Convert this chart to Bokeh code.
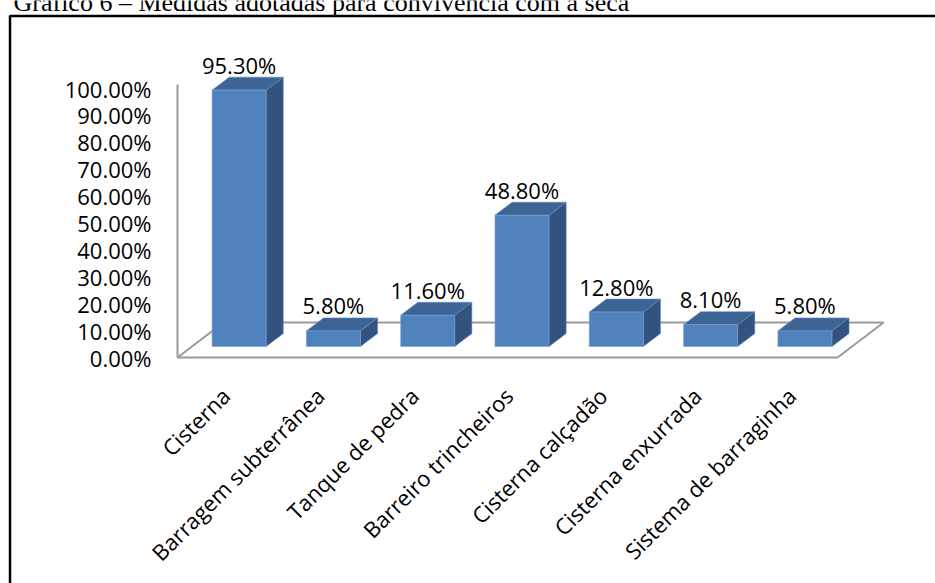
import numpy as np
from bokeh.plotting import figure
from bokeh.models import Range1d, ColumnDataSource
from bokeh.core.properties import value
from bokeh.embed import file_html
from bokeh.resources import INLINE

# ---------------- data ----------------
categories = ["Cisterna", "Barragem subterrânea", "Tanque de pedra",
              "Barreiro trincheiros", "Cisterna calçadão", "Cisterna enxurrada",
              "Sistema de barraginha"]
values = [95.3, 5.8, 11.6, 48.8, 12.8, 8.1, 5.8]
value_labels = ["95.30%", "5.80%", "11.60%", "48.80%", "12.80%", "8.10%", "5.80%"]
y_ticks = [0, 10, 20, 30, 40, 50, 60, 70, 80, 90, 100]
y_tick_labels = ["0.00%", "10.00%", "20.00%", "30.00%", "40.00%", "50.00%",
                 "60.00%", "70.00%", "80.00%", "90.00%", "100.00%"]
title_text = "Gráfico 6 – Medidas adotadas para convivência com a seca"

# ---------------- layout / style constants ----------------
W, H = 935, 583
PX_X = 94.3          # pixels per category slot
PX_Y = 2.69          # pixels per percent
ORIGIN_X, ORIGIN_Y = 177, 357   # canvas pixel of (0, 0)


def px2x(px):
    return (px - ORIGIN_X) / PX_X


def px2y(py):
    return (ORIGIN_Y - py) / PX_Y


DX = 46 / PX_X       # floor depth (x, data units)
DY = 35 / PX_Y       # floor depth (y, data units)
F0, F1 = 0.314, 0.686  # bar front / back depth fractions
BW = 0.573           # bar width (slot units)

FONT = "Open Sans"
FS = "22px"
FRONT, TOP, SIDE = "#4F81BD", "#3C6494", "#32527F"
GRID_GRAY = "#9A9A9A"

n = len(values)
v = np.array(values, dtype=float)
xc = np.arange(n) + 0.5

p = figure(width=W, height=H, output_backend="svg", toolbar_location=None,
           x_range=Range1d(px2x(0), px2x(W)), y_range=Range1d(px2y(H), px2y(0)),
           min_border=0)
p.outline_line_color = None
p.axis.visible = False
p.xgrid.visible = False
p.ygrid.visible = False
p.background_fill_color = "white"
p.border_fill_color = "white"

# outer chart border (open at right/bottom like the cropped reference)
p.quad(left=[px2x(9.5)], right=[px2x(W + 20)], top=[px2y(15.5)], bottom=[px2y(H + 20)],
       fill_color=None, line_color="black", line_width=2.5)

# caption above the chart (cropped by the top edge, as in the reference)
p.text(x=[px2x(13)], y=[px2y(2)], text=[title_text], text_font=value("Liberation Serif"),
       text_font_size="26px", text_baseline="alphabetic", text_align="left",
       text_color="black")

# floor
p.patch(x=[0, n, n + DX, DX], y=[0, 0, DY, DY], fill_color="white",
        line_color=GRID_GRAY, line_width=2)
# vertical axis line
p.segment(x0=[0], y0=[0], x1=[0], y1=[101.5], line_color=GRID_GRAY, line_width=2)

# bars (pseudo 3D)
fl = xc + F0 * DX - BW / 2
fr = fl + BW
bot = np.full(n, F0 * DY)
top = bot + v
ddx = (F1 - F0) * DX
ddy = (F1 - F0) * DY

side_xs = [[fr[i], fr[i] + ddx, fr[i] + ddx, fr[i]] for i in range(n)]
side_ys = [[bot[i], bot[i] + ddy, top[i] + ddy, top[i]] for i in range(n)]
top_xs = [[fl[i], fr[i], fr[i] + ddx, fl[i] + ddx] for i in range(n)]
top_ys = [[top[i], top[i], top[i] + ddy, top[i] + ddy] for i in range(n)]

p.patches(xs=side_xs, ys=side_ys, fill_color=SIDE, line_color="#5A7FB0", line_width=0.6)
p.patches(xs=top_xs, ys=top_ys, fill_color=TOP, line_color="#6A8FC4", line_width=0.6)
p.quad(left=fl, right=fr, bottom=bot, top=top, fill_color=FRONT,
       line_color="#7FA1D0", line_width=0.6)

# value labels
src = ColumnDataSource(dict(x=xc + F0 * DX, y=top + ddy + 12.5 / PX_Y, t=value_labels))
p.text(x="x", y="y", text="t", source=src, text_align="center", text_baseline="middle",
       text_font=value(FONT), text_font_size=FS, text_color="black")

# y axis tick labels
ysrc = ColumnDataSource(dict(x=[px2x(151)] * len(y_ticks), y=y_ticks, t=y_tick_labels))
p.text(x="x", y="y", text="t", source=ysrc, text_align="right", text_baseline="middle",
       text_font=value(FONT), text_font_size=FS, text_color="black")

# category labels (rotated 45 degrees, ending under each slot)
csrc = ColumnDataSource(dict(x=xc + 1 / PX_X, y=[px2y(391)] * n, t=categories))
p.text(x="x", y="y", text="t", source=csrc, angle=np.pi / 4, text_align="right",
       text_baseline="middle", text_font=value(FONT), text_font_size=FS,
       text_color="black")

open("out.html", "w").write(file_html(p, INLINE))
